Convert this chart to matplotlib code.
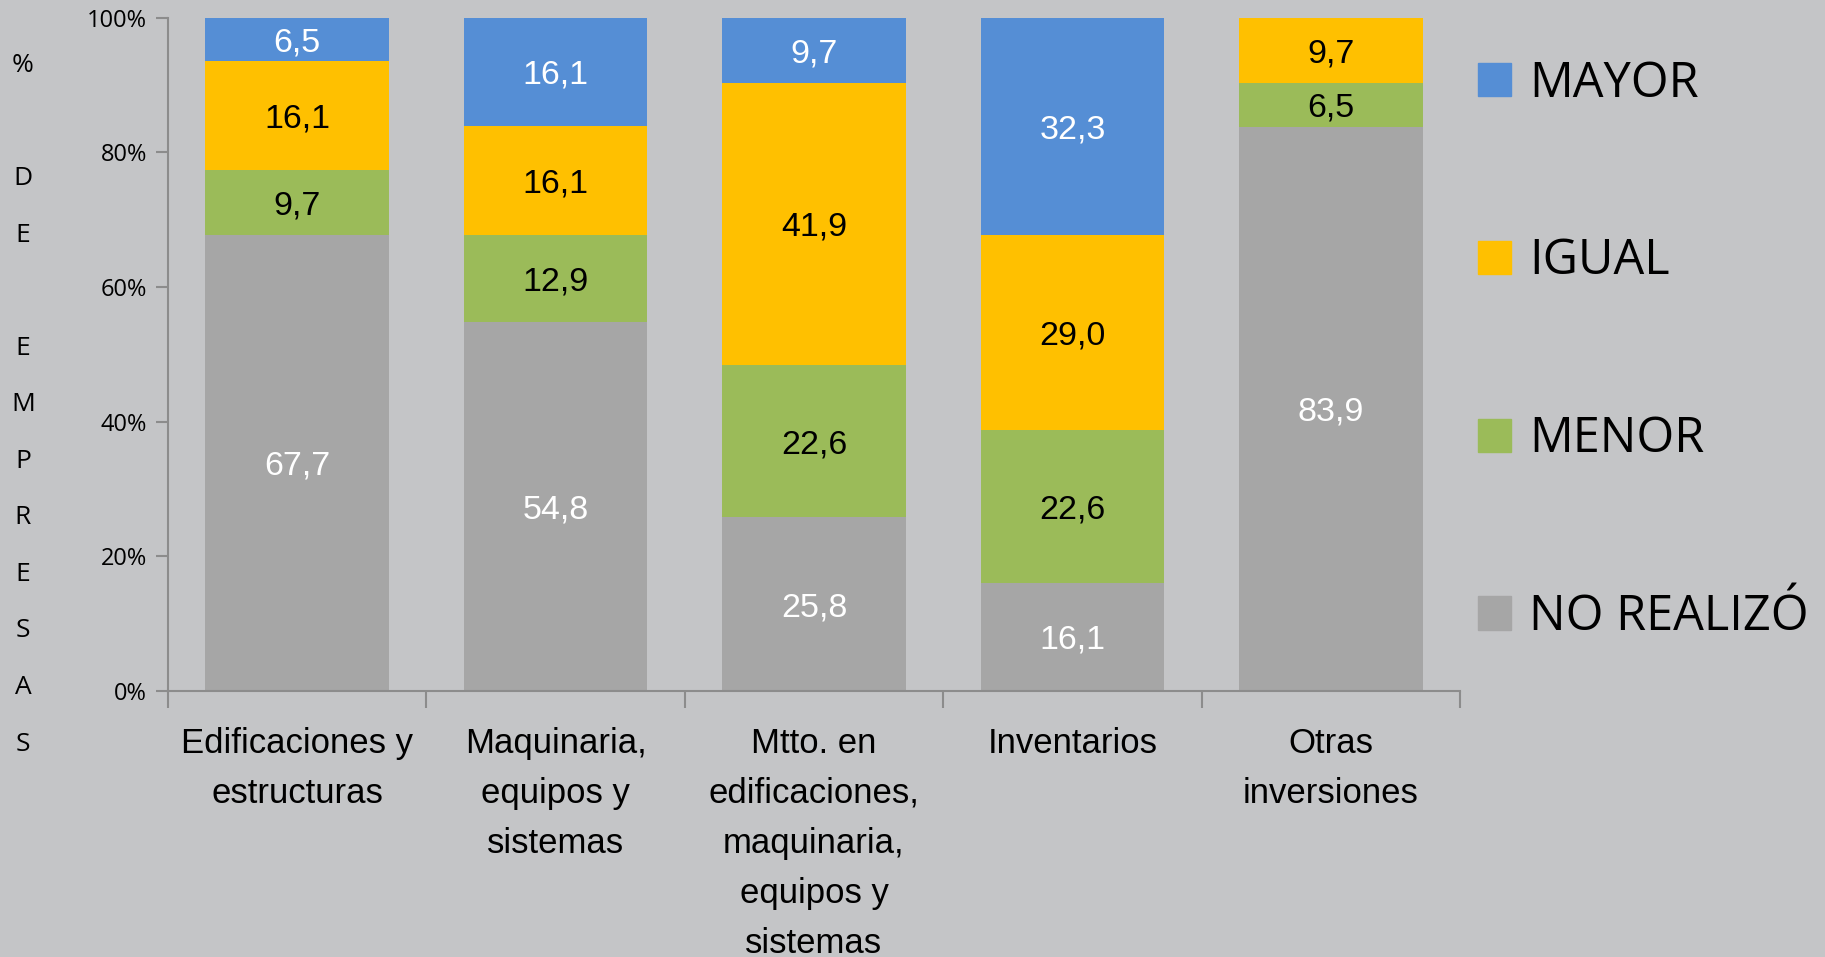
import matplotlib
matplotlib.use("Agg")
import matplotlib.pyplot as plt
import matplotlib.patches as mpatches
import numpy as np

CATEGORIES = [
    "Edificaciones y\nestructuras",
    "Maquinaria,\nequipos y\nsistemas",
    "Mtto. en\nedificaciones,\nmaquinaria,\nequipos y\nsistemas",
    "Inventarios",
    "Otras\ninversiones",
]
SERIES = ["NO REALIZÓ", "MENOR", "IGUAL", "MAYOR"]
NO_REALIZO = [67.7, 54.8, 25.8, 16.1, 83.9]
MENOR = [9.7, 12.9, 22.6, 22.6, 6.5]
IGUAL = [16.1, 16.1, 41.9, 29.0, 9.7]
MAYOR = [6.5, 16.1, 9.7, 32.3, 0.0]

COLORS = ["#a6a6a6", "#9bbb59", "#ffc000", "#558ed5"]
LABEL_COLORS = ["white", "black", "black", "white"]
BG = "#c4c5c7"
AXIS_COLOR = "#8c8c8c"

if __name__ == "__main__":
    values = np.array([NO_REALIZO, MENOR, IGUAL, MAYOR])
    shares = values / values.sum(axis=0) * 100  # 100% stacked

    fig = plt.figure(figsize=(18.25, 9.57), dpi=100, facecolor=BG)
    ax = fig.add_axes([0.092, 0.278, 0.708, 0.7037])
    ax.set_facecolor(BG)

    x = np.arange(len(CATEGORIES))
    bottom = np.zeros(len(CATEGORIES))
    handles = []
    for i, name in enumerate(SERIES):
        bars = ax.bar(x, shares[i], 0.71, bottom=bottom, color=COLORS[i],
                      label=name, zorder=2)
        for j, b in enumerate(bars):
            if values[i][j] > 0:
                ax.text(x[j], bottom[j] + shares[i][j] / 2,
                        f"{values[i][j]:.1f}".replace(".", ","),
                        ha="center", va="center_baseline", fontsize=24.5,
                        color=LABEL_COLORS[i], family="Liberation Sans")
        bottom += shares[i]
        handles.append(mpatches.Patch(color=COLORS[i], label=name))

    ax.set_xlim(-0.5, len(CATEGORIES) - 0.5)
    ax.set_ylim(0, 100)

    # axes styling
    for side in ["top", "right"]:
        ax.spines[side].set_visible(False)
    for side in ["left", "bottom"]:
        ax.spines[side].set_color(AXIS_COLOR)
        ax.spines[side].set_linewidth(1.5)

    ax.set_yticks(np.arange(0, 101, 20))
    ax.set_yticklabels([f"{v}%" for v in range(0, 101, 20)],
                       fontsize=17, family="Open Sans")
    ax.tick_params(axis="y", length=9, width=1.5, color=AXIS_COLOR, pad=6)

    ax.set_xticks(x)
    ax.set_xticklabels(CATEGORIES, fontsize=25, linespacing=1.65,
                       family="Liberation Sans", va="top")
    ax.tick_params(axis="x", length=0, pad=26)
    ax.set_xticks(np.arange(-0.5, len(CATEGORIES), 1), minor=True)
    ax.tick_params(axis="x", which="minor", length=12, width=1.5,
                   color=AXIS_COLOR)

    # vertical letter-stacked y label
    ylab = "\n".join(list("% DE EMPRESAS"))
    fig.text(0.0126, 0.577, ylab, ha="center", va="center", fontsize=19,
             family="Open Sans", linespacing=2.66)

    fig.legend(handles=handles[::-1], loc="upper left",
               bbox_to_anchor=(0.786, 0.984), frameon=False,
               handlelength=0.67, handleheight=0.67,
               handletextpad=0.38, labelspacing=2.64,
               prop={"family": "Open Sans", "size": 35})

    fig.savefig("out.png", dpi=100, facecolor=BG)
